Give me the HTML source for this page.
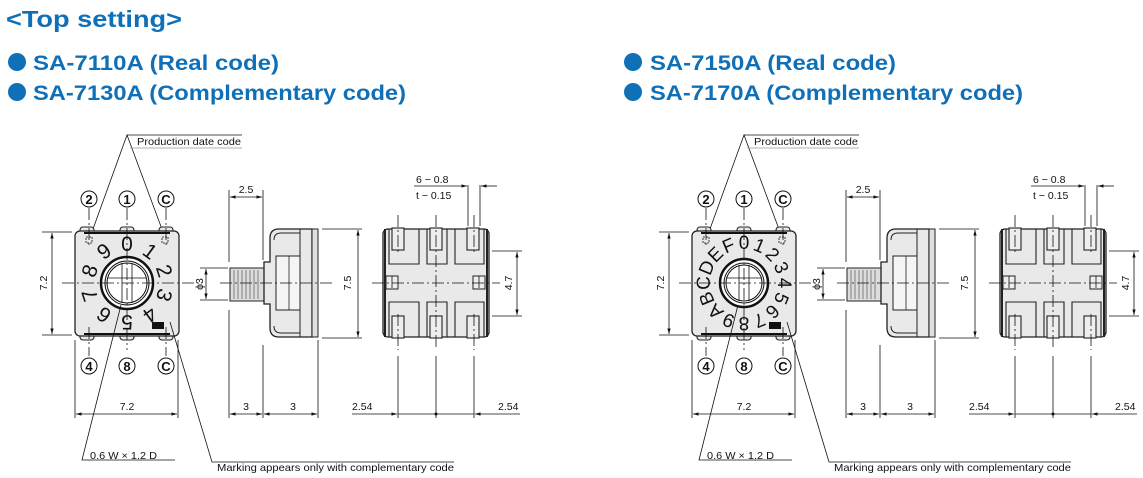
<!DOCTYPE html>
<html><head><meta charset="utf-8"><style>
html,body{margin:0;padding:0;background:#fff;}
svg{display:block;font-family:"Liberation Sans",Arial,sans-serif;}
.h{fill:#0f70b7;font-weight:bold;}
.t{font-size:10.5px;fill:#111;}
.ln{stroke:#111;stroke-width:0.8;fill:none;}
.cl{stroke:#111;stroke-width:0.8;fill:none;stroke-dasharray:12 3 2 3;}
.body{fill:#e9e9e9;stroke:#222;stroke-width:1.3;}
.pad{fill:#e9e9e9;stroke:#222;stroke-width:1.1;}
.dial{font-size:21px;fill:#111;text-anchor:middle;}
.cn{font-size:13px;fill:#111;text-anchor:middle;font-weight:bold;}
</style></head><body>
<svg width="1143" height="478" viewBox="0 0 1143 478" xmlns="http://www.w3.org/2000/svg">
<defs>
<marker id="a" viewBox="0 0 10 10" refX="10" refY="5" markerWidth="7" markerHeight="7" orient="auto-start-reverse"><path d="M0,2 L10,5 L0,8 z" fill="#111"/></marker>
</defs>
<text x="6" y="27" class="h" font-size="23" textLength="176" lengthAdjust="spacingAndGlyphs">&lt;Top setting&gt;</text>
<circle cx="17" cy="62" r="9" fill="#0f70b7"/><circle cx="17" cy="92" r="9" fill="#0f70b7"/>
<text x="33" y="70" class="h" font-size="21" textLength="246" lengthAdjust="spacingAndGlyphs">SA-7110A (Real code)</text>
<text x="33" y="100" class="h" font-size="21" textLength="373" lengthAdjust="spacingAndGlyphs">SA-7130A (Complementary code)</text>
<circle cx="633" cy="62" r="9" fill="#0f70b7"/><circle cx="633" cy="92" r="9" fill="#0f70b7"/>
<text x="650" y="70" class="h" font-size="21" textLength="246" lengthAdjust="spacingAndGlyphs">SA-7150A (Real code)</text>
<text x="650" y="100" class="h" font-size="21" textLength="373" lengthAdjust="spacingAndGlyphs">SA-7170A (Complementary code)</text>

<g id="L">
<path class="ln" d="M89,240 L127,135 L166,240 M127,135 L242,135"/>
<text x="137" y="145" class="t" textLength="104" lengthAdjust="spacingAndGlyphs">Production date code</text>
<line x1="130" y1="148" x2="242" y2="148" stroke="#999" stroke-width="0.8"/>
<rect x="80" y="227" width="14" height="10" rx="3" class="pad"/>
<rect x="120" y="227" width="14" height="10" rx="3" class="pad"/>
<rect x="159" y="227" width="14" height="10" rx="3" class="pad"/>
<rect x="80" y="330" width="14" height="10" rx="3" class="pad"/>
<rect x="120" y="330" width="14" height="10" rx="3" class="pad"/>
<rect x="159" y="330" width="14" height="10" rx="3" class="pad"/>
<rect x="75" y="231" width="104" height="105" rx="5" class="body"/>
<line x1="84" y1="233" x2="170" y2="233" stroke="#111" stroke-width="2"/>
<line x1="84" y1="334" x2="170" y2="334" stroke="#111" stroke-width="2"/>
<rect x="86" y="237" width="6" height="6" fill="none" stroke="#111" stroke-width="0.8" stroke-dasharray="2 1"/>
<rect x="162" y="237" width="6" height="6" fill="none" stroke="#111" stroke-width="0.8" stroke-dasharray="2 1"/>
<circle cx="127" cy="283" r="26" fill="#fff" stroke="#111" stroke-width="2.5"/>
<circle cx="127" cy="283" r="22" fill="#fff" stroke="#111" stroke-width="1"/>
<circle cx="127" cy="283" r="20" fill="none" stroke="#111" stroke-width="1"/>
<line x1="108" y1="278" x2="146" y2="278" stroke="#111" stroke-width="0.8"/>
<line x1="122" y1="263" x2="122" y2="303" stroke="#111" stroke-width="0.8"/>
<line x1="132" y1="263" x2="132" y2="303" stroke="#111" stroke-width="0.8"/>
<path class="cl" d="M62,283 L200,283 M127,208 L127,350 M89,208 L89,245 M166,208 L166,245 M89,327 L89,356 M166,327 L166,356"/>
<g fill="none" stroke="#111" stroke-width="1"><circle cx="89" cy="199" r="8"/><circle cx="127" cy="199" r="8"/><circle cx="166" cy="199" r="8"/><circle cx="89" cy="366" r="8"/><circle cx="127" cy="366" r="8"/><circle cx="166" cy="366" r="8"/></g>
<text x="89" y="204" class="cn">2</text><text x="127" y="204" class="cn">1</text><text x="166" y="204" class="cn">C</text>
<text x="89" y="371" class="cn">4</text><text x="127" y="371" class="cn">8</text><text x="166" y="371" class="cn">C</text>
<path class="ln" d="M42,232 L72,232 M42,335 L72,335 M75,340 L75,418 M178,340 L178,418"/>
<line x1="52" y1="233" x2="52" y2="334" class="ln" marker-start="url(#a)" marker-end="url(#a)"/>
<text class="t" transform="translate(47,283) rotate(-90)" text-anchor="middle">7.2</text>
<line x1="76" y1="414" x2="177" y2="414" class="ln" marker-start="url(#a)" marker-end="url(#a)"/>
<text x="127" y="410" class="t" text-anchor="middle">7.2</text>
<path class="ln" d="M121,305 L82,460 L175,460"/>
<text x="90" y="459" class="t" textLength="67" lengthAdjust="spacingAndGlyphs">0.6 W × 1.2 D</text>
<path class="ln" d="M170,322 L212,462 L454,462"/>
<text x="217" y="471" class="t" textLength="237" lengthAdjust="spacingAndGlyphs">Marking appears only with complementary code</text>
<rect x="230" y="268" width="34" height="33" fill="#ddd" stroke="#222" stroke-width="1"/>
<path d="M234,270V299M238,270V299M242,270V299M246,270V299M250,270V299M254,270V299M258,270V299" stroke="#666" stroke-width="0.8"/>
<path d="M264,262 L270,262 L270,238 Q270,229 279,229 L312,229 L312,337 L279,337 Q270,337 270,328 L270,304 L264,304 Z" class="body"/>
<rect x="276" y="256" width="24" height="54" fill="#f5f5f5" stroke="#222" stroke-width="1"/>
<line x1="289" y1="256" x2="289" y2="310" stroke="#222" stroke-width="0.8"/>
<path d="M300,229 L300,256 M300,310 L300,337 M274,240 Q274,233 281,233 L300,233 M274,326 Q274,333 281,333 L300,333" stroke="#222" stroke-width="1" fill="none"/>
<rect x="312" y="229" width="6" height="108" fill="#e0e0e0" stroke="#222" stroke-width="1"/>
<path class="ln" d="M229,190 L229,262 M263,190 L263,260 M200,268 L228,268 M200,300 L228,300 M229,310 L229,418 M263,345 L263,418 M318,340 L318,418 M322,229 L362,229 M322,338 L362,338"/>
<path class="cl" d="M220,283 L335,283"/>
<line x1="230" y1="197" x2="262" y2="197" class="ln" marker-start="url(#a)" marker-end="url(#a)"/>
<text x="246" y="193" class="t" text-anchor="middle">2.5</text>
<line x1="206" y1="269" x2="206" y2="299" class="ln" marker-start="url(#a)" marker-end="url(#a)"/>
<text class="t" transform="translate(203,284) rotate(-90)" text-anchor="middle">ϕ3</text>
<line x1="358" y1="230" x2="358" y2="337" class="ln" marker-start="url(#a)" marker-end="url(#a)"/>
<text class="t" transform="translate(351,283) rotate(-90)" text-anchor="middle">7.5</text>
<line x1="230" y1="414" x2="262" y2="414" class="ln" marker-start="url(#a)" marker-end="url(#a)"/>
<line x1="264" y1="414" x2="317" y2="414" class="ln" marker-start="url(#a)" marker-end="url(#a)"/>
<text x="246" y="410" class="t" text-anchor="middle">3</text>
<text x="293" y="410" class="t" text-anchor="middle">3</text>
<rect x="383" y="229" width="106" height="108" rx="5" class="body"/>
<path d="M385,229 L385,337 M487,229 L487,337" stroke="#222" stroke-width="2"/>
<path d="M389,229 L389,264 L419,264 L419,229 M427,229 L427,264 L447,264 L447,229 M455,229 L455,264 L484,264 L484,229 M389,337 L389,302 L419,302 L419,337 M427,337 L427,302 L447,302 L447,337 M455,337 L455,302 L484,302 L484,337" stroke="#222" stroke-width="1.1" fill="none"/>
<rect x="392" y="228" width="12" height="22" fill="#eee" stroke="#222" stroke-width="1.1"/>
<rect x="430" y="228" width="12" height="22" fill="#eee" stroke="#222" stroke-width="1.1"/>
<rect x="467" y="228" width="12" height="22" fill="#eee" stroke="#222" stroke-width="1.1"/>
<rect x="392" y="316" width="12" height="22" fill="#eee" stroke="#222" stroke-width="1.1"/>
<rect x="430" y="316" width="12" height="22" fill="#eee" stroke="#222" stroke-width="1.1"/>
<rect x="467" y="316" width="12" height="22" fill="#eee" stroke="#222" stroke-width="1.1"/>
<rect x="386" y="276" width="12" height="13" fill="#eee" stroke="#222" stroke-width="1"/>
<rect x="473" y="276" width="12" height="13" fill="#eee" stroke="#222" stroke-width="1"/>
<path class="cl" d="M372,283 L500,283 M436,215 L436,350 M398,215 L398,252 M474,215 L474,252 M398,314 L398,350 M474,314 L474,350 M392,276 L392,289 M479,276 L479,289"/>
<path class="ln" d="M468,185 L468,226 M480,185 L480,226 M492,251 L522,251 M492,316 L522,316 M398,356 L398,418 M436,356 L436,418 M474,356 L474,418"/>
<line x1="414" y1="186" x2="467" y2="186" class="ln" marker-end="url(#a)"/>
<line x1="497" y1="186" x2="481" y2="186" class="ln" marker-end="url(#a)"/>
<text x="416" y="183" class="t">6 − 0.8</text>
<text x="416" y="199" class="t">t − 0.15</text>
<line x1="517" y1="252" x2="517" y2="315" class="ln" marker-start="url(#a)" marker-end="url(#a)"/>
<text class="t" transform="translate(512,283) rotate(-90)" text-anchor="middle">4.7</text>
<line x1="352" y1="414" x2="397" y2="414" class="ln" marker-end="url(#a)"/>
<line x1="520" y1="414" x2="475" y2="414" class="ln" marker-end="url(#a)"/>
<line x1="398" y1="414" x2="474" y2="414" class="ln"/>
<circle cx="436" cy="414" r="1.5" fill="#111"/>
<text x="352" y="410" class="t">2.54</text>
<text x="498" y="410" class="t">2.54</text>
</g>
<rect x="152" y="322" width="12" height="7" fill="#111"/>

<g class="dial">
<text x="127" y="251" transform="rotate(0 127 283)">0</text>
<text x="127" y="251" transform="rotate(36 127 283)">1</text>
<text x="127" y="251" transform="rotate(72 127 283)">2</text>
<text x="127" y="251" transform="rotate(108 127 283)">3</text>
<text x="127" y="251" transform="rotate(144 127 283)">4</text>
<text x="127" y="251" transform="rotate(180 127 283)">5</text>
<text x="127" y="251" transform="rotate(216 127 283)">6</text>
<text x="127" y="251" transform="rotate(252 127 283)">7</text>
<text x="127" y="251" transform="rotate(288 127 283)">8</text>
<text x="127" y="251" transform="rotate(324 127 283)">9</text>
</g>

<g transform="translate(617,0)">
<path class="ln" d="M89,240 L127,135 L166,240 M127,135 L242,135"/>
<text x="137" y="145" class="t" textLength="104" lengthAdjust="spacingAndGlyphs">Production date code</text>
<line x1="130" y1="148" x2="242" y2="148" stroke="#999" stroke-width="0.8"/>
<rect x="80" y="227" width="14" height="10" rx="3" class="pad"/>
<rect x="120" y="227" width="14" height="10" rx="3" class="pad"/>
<rect x="159" y="227" width="14" height="10" rx="3" class="pad"/>
<rect x="80" y="330" width="14" height="10" rx="3" class="pad"/>
<rect x="120" y="330" width="14" height="10" rx="3" class="pad"/>
<rect x="159" y="330" width="14" height="10" rx="3" class="pad"/>
<rect x="75" y="231" width="104" height="105" rx="5" class="body"/>
<line x1="84" y1="233" x2="170" y2="233" stroke="#111" stroke-width="2"/>
<line x1="84" y1="334" x2="170" y2="334" stroke="#111" stroke-width="2"/>
<rect x="86" y="237" width="6" height="6" fill="none" stroke="#111" stroke-width="0.8" stroke-dasharray="2 1"/>
<rect x="162" y="237" width="6" height="6" fill="none" stroke="#111" stroke-width="0.8" stroke-dasharray="2 1"/>
<circle cx="127" cy="283" r="24" fill="#fff" stroke="#111" stroke-width="2.5"/>
<circle cx="127" cy="283" r="20" fill="#fff" stroke="#111" stroke-width="1"/>
<circle cx="127" cy="283" r="18" fill="none" stroke="#111" stroke-width="1"/>
<line x1="110" y1="278" x2="144" y2="278" stroke="#111" stroke-width="0.8"/>
<line x1="122" y1="265" x2="122" y2="301" stroke="#111" stroke-width="0.8"/>
<line x1="132" y1="265" x2="132" y2="301" stroke="#111" stroke-width="0.8"/>
<path class="cl" d="M62,283 L200,283 M127,208 L127,350 M89,208 L89,245 M166,208 L166,245 M89,327 L89,356 M166,327 L166,356"/>
<g fill="none" stroke="#111" stroke-width="1"><circle cx="89" cy="199" r="8"/><circle cx="127" cy="199" r="8"/><circle cx="166" cy="199" r="8"/><circle cx="89" cy="366" r="8"/><circle cx="127" cy="366" r="8"/><circle cx="166" cy="366" r="8"/></g>
<text x="89" y="204" class="cn">2</text><text x="127" y="204" class="cn">1</text><text x="166" y="204" class="cn">C</text>
<text x="89" y="371" class="cn">4</text><text x="127" y="371" class="cn">8</text><text x="166" y="371" class="cn">C</text>
<path class="ln" d="M42,232 L72,232 M42,335 L72,335 M75,340 L75,418 M178,340 L178,418"/>
<line x1="52" y1="233" x2="52" y2="334" class="ln" marker-start="url(#a)" marker-end="url(#a)"/>
<text class="t" transform="translate(47,283) rotate(-90)" text-anchor="middle">7.2</text>
<line x1="76" y1="414" x2="177" y2="414" class="ln" marker-start="url(#a)" marker-end="url(#a)"/>
<text x="127" y="410" class="t" text-anchor="middle">7.2</text>
<path class="ln" d="M121,305 L82,460 L175,460"/>
<text x="90" y="459" class="t" textLength="67" lengthAdjust="spacingAndGlyphs">0.6 W × 1.2 D</text>
<path class="ln" d="M170,322 L212,462 L454,462"/>
<text x="217" y="471" class="t" textLength="237" lengthAdjust="spacingAndGlyphs">Marking appears only with complementary code</text>
<rect x="230" y="268" width="34" height="33" fill="#ddd" stroke="#222" stroke-width="1"/>
<path d="M234,270V299M238,270V299M242,270V299M246,270V299M250,270V299M254,270V299M258,270V299" stroke="#666" stroke-width="0.8"/>
<path d="M264,262 L270,262 L270,238 Q270,229 279,229 L312,229 L312,337 L279,337 Q270,337 270,328 L270,304 L264,304 Z" class="body"/>
<rect x="276" y="256" width="24" height="54" fill="#f5f5f5" stroke="#222" stroke-width="1"/>
<line x1="289" y1="256" x2="289" y2="310" stroke="#222" stroke-width="0.8"/>
<path d="M300,229 L300,256 M300,310 L300,337 M274,240 Q274,233 281,233 L300,233 M274,326 Q274,333 281,333 L300,333" stroke="#222" stroke-width="1" fill="none"/>
<rect x="312" y="229" width="6" height="108" fill="#e0e0e0" stroke="#222" stroke-width="1"/>
<path class="ln" d="M229,190 L229,262 M263,190 L263,260 M200,268 L228,268 M200,300 L228,300 M229,310 L229,418 M263,345 L263,418 M318,340 L318,418 M322,229 L362,229 M322,338 L362,338"/>
<path class="cl" d="M220,283 L335,283"/>
<line x1="230" y1="197" x2="262" y2="197" class="ln" marker-start="url(#a)" marker-end="url(#a)"/>
<text x="246" y="193" class="t" text-anchor="middle">2.5</text>
<line x1="206" y1="269" x2="206" y2="299" class="ln" marker-start="url(#a)" marker-end="url(#a)"/>
<text class="t" transform="translate(203,284) rotate(-90)" text-anchor="middle">ϕ3</text>
<line x1="358" y1="230" x2="358" y2="337" class="ln" marker-start="url(#a)" marker-end="url(#a)"/>
<text class="t" transform="translate(351,283) rotate(-90)" text-anchor="middle">7.5</text>
<line x1="230" y1="414" x2="262" y2="414" class="ln" marker-start="url(#a)" marker-end="url(#a)"/>
<line x1="264" y1="414" x2="317" y2="414" class="ln" marker-start="url(#a)" marker-end="url(#a)"/>
<text x="246" y="410" class="t" text-anchor="middle">3</text>
<text x="293" y="410" class="t" text-anchor="middle">3</text>
<rect x="383" y="229" width="106" height="108" rx="5" class="body"/>
<path d="M385,229 L385,337 M487,229 L487,337" stroke="#222" stroke-width="2"/>
<path d="M389,229 L389,264 L419,264 L419,229 M427,229 L427,264 L447,264 L447,229 M455,229 L455,264 L484,264 L484,229 M389,337 L389,302 L419,302 L419,337 M427,337 L427,302 L447,302 L447,337 M455,337 L455,302 L484,302 L484,337" stroke="#222" stroke-width="1.1" fill="none"/>
<rect x="392" y="228" width="12" height="22" fill="#eee" stroke="#222" stroke-width="1.1"/>
<rect x="430" y="228" width="12" height="22" fill="#eee" stroke="#222" stroke-width="1.1"/>
<rect x="467" y="228" width="12" height="22" fill="#eee" stroke="#222" stroke-width="1.1"/>
<rect x="392" y="316" width="12" height="22" fill="#eee" stroke="#222" stroke-width="1.1"/>
<rect x="430" y="316" width="12" height="22" fill="#eee" stroke="#222" stroke-width="1.1"/>
<rect x="467" y="316" width="12" height="22" fill="#eee" stroke="#222" stroke-width="1.1"/>
<rect x="386" y="276" width="12" height="13" fill="#eee" stroke="#222" stroke-width="1"/>
<rect x="473" y="276" width="12" height="13" fill="#eee" stroke="#222" stroke-width="1"/>
<path class="cl" d="M372,283 L500,283 M436,215 L436,350 M398,215 L398,252 M474,215 L474,252 M398,314 L398,350 M474,314 L474,350 M392,276 L392,289 M479,276 L479,289"/>
<path class="ln" d="M468,185 L468,226 M480,185 L480,226 M492,251 L522,251 M492,316 L522,316 M398,356 L398,418 M436,356 L436,418 M474,356 L474,418"/>
<line x1="414" y1="186" x2="467" y2="186" class="ln" marker-end="url(#a)"/>
<line x1="497" y1="186" x2="481" y2="186" class="ln" marker-end="url(#a)"/>
<text x="416" y="183" class="t">6 − 0.8</text>
<text x="416" y="199" class="t">t − 0.15</text>
<line x1="517" y1="252" x2="517" y2="315" class="ln" marker-start="url(#a)" marker-end="url(#a)"/>
<text class="t" transform="translate(512,283) rotate(-90)" text-anchor="middle">4.7</text>
<line x1="352" y1="414" x2="397" y2="414" class="ln" marker-end="url(#a)"/>
<line x1="520" y1="414" x2="475" y2="414" class="ln" marker-end="url(#a)"/>
<line x1="398" y1="414" x2="474" y2="414" class="ln"/>
<circle cx="436" cy="414" r="1.5" fill="#111"/>
<text x="352" y="410" class="t">2.54</text>
<text x="498" y="410" class="t">2.54</text>
<rect x="152" y="322" width="12" height="7" fill="#111"/>
<g class="dial" style="font-size:19px">
<text x="127" y="249" transform="rotate(0 127 283)">0</text>
<text x="127" y="249" transform="rotate(22.5 127 283)">1</text>
<text x="127" y="249" transform="rotate(45 127 283)">2</text>
<text x="127" y="249" transform="rotate(67.5 127 283)">3</text>
<text x="127" y="249" transform="rotate(90 127 283)">4</text>
<text x="127" y="249" transform="rotate(112.5 127 283)">5</text>
<text x="127" y="249" transform="rotate(135 127 283)">6</text>
<text x="127" y="249" transform="rotate(157.5 127 283)">7</text>
<text x="127" y="249" transform="rotate(180 127 283)">8</text>
<text x="127" y="249" transform="rotate(202.5 127 283)">9</text>
<text x="127" y="249" transform="rotate(225 127 283)">A</text>
<text x="127" y="249" transform="rotate(247.5 127 283)">B</text>
<text x="127" y="249" transform="rotate(270 127 283)">C</text>
<text x="127" y="249" transform="rotate(292.5 127 283)">D</text>
<text x="127" y="249" transform="rotate(315 127 283)">E</text>
<text x="127" y="249" transform="rotate(337.5 127 283)">F</text>
</g>
</g>
</svg>
</body></html>
